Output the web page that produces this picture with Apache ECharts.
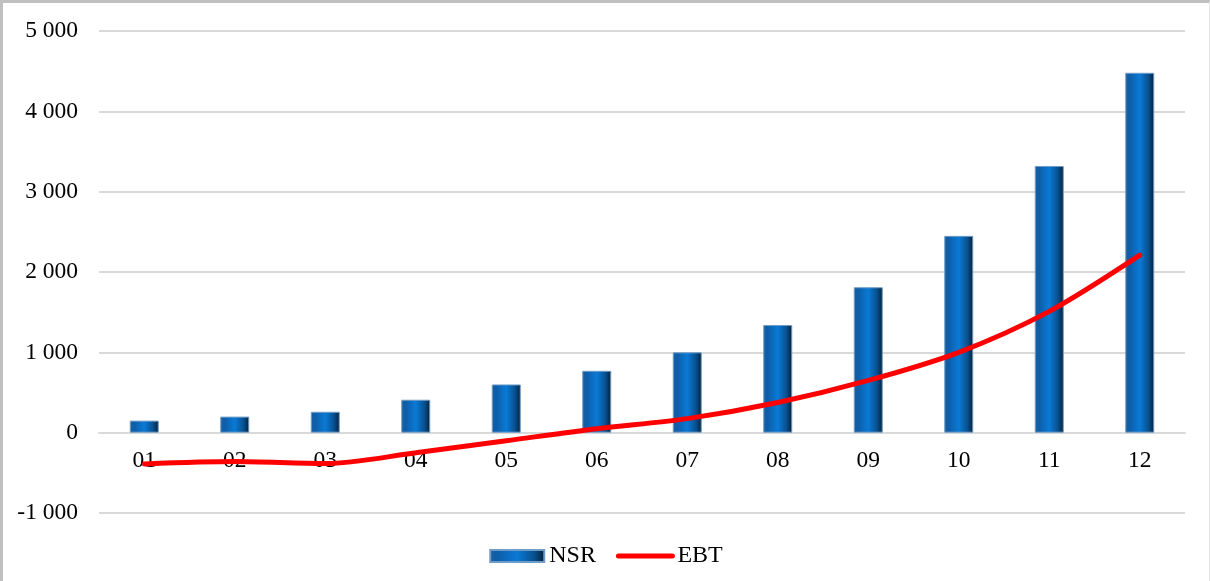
<!DOCTYPE html>
<html>
<head>
<meta charset="utf-8">
<script src="https://cdn.jsdelivr.net/npm/echarts@6/dist/echarts.min.js"></script>
<style>
  html, body { margin: 0; padding: 0; background: #fff; }
  #chart { width: 1210px; height: 581px; box-sizing: border-box;
           border-left: 3px solid #c0c0c0; border-top: 3px solid #c0c0c0; border-right: 1px solid #e4e4e4; }
</style>
</head>
<body>
<div id="chart"></div>
<script>
var categories = ['01', '02', '03', '04', '05', '06', '07', '08', '09', '10', '11', '12'];
var nsr = [150, 200, 260, 410, 600, 770, 1000, 1340, 1810, 2450, 3320, 4480];
var ebt = [-390, -360, -385, -250, -100, 50, 175, 375, 650, 1000, 1510, 2210];

var chart = echarts.init(document.getElementById('chart'));

var barColor = new echarts.graphic.LinearGradient(0, 0, 1, 0, [
  { offset: 0, color: '#1c5f9e' },
  { offset: 0.15, color: '#0d5da8' },
  { offset: 0.5, color: '#0a7ad6' },
  { offset: 0.8, color: '#08508f' },
  { offset: 1, color: '#061e33' }
]);

function fmt(v) {
  var s = Math.abs(v).toString().replace(/\B(?=(\d{3})+(?!\d))/g, ' ');
  return (v < 0 ? '-' : '') + s;
}

// grid: 578px canvas, top 28, bottom 68 -> 482px for 6 steps
var gridTop = 28, gridBottom = 68;
var step = (578 - gridTop - gridBottom) / 6;

chart.setOption({
  animation: false,
  textStyle: { fontFamily: 'Liberation Serif, Times New Roman, serif' },
  grid: { left: 96, right: 24, top: gridTop, bottom: gridBottom },
  legend: {
    bottom: 8,
    left: 'center',
    itemWidth: 54,
    itemHeight: 12,
    itemGap: 20,
    textStyle: { fontSize: 24, color: '#000', fontFamily: 'Liberation Serif' },
    data: [
      { name: 'NSR', icon: 'rect' },
      { name: 'EBT', itemStyle: { opacity: 0 }, lineStyle: { width: 5, color: '#ff0000', cap: 'round' } }
    ]
  },
  xAxis: {
    type: 'category',
    data: categories,
    offset: -step,
    axisLine: { onZero: false, lineStyle: { color: '#d9d9d9', width: 2 } },
    axisTick: { show: false },
    axisLabel: { fontSize: 23.5, color: '#000', margin: 16, fontFamily: 'Liberation Serif' }
  },
  yAxis: {
    type: 'value',
    min: -1000,
    max: 5000,
    interval: 1000,
    axisLine: { show: false },
    axisTick: { show: false },
    splitLine: { lineStyle: { color: '#d9d9d9', width: 2 } },
    axisLabel: { fontSize: 23.5, color: '#000', margin: 21, formatter: fmt, fontFamily: 'Liberation Serif' }
  },
  series: [
    {
      name: 'NSR',
      type: 'bar',
      data: nsr,
      barWidth: 29,
      itemStyle: { color: barColor, borderColor: '#6f9cc6', borderWidth: 1 },
      z: 2
    },
    {
      name: 'EBT',
      type: 'line',
      data: ebt,
      smooth: 0.3,
      symbol: 'none',
      lineStyle: { color: '#ff0000', width: 5, cap: 'round' },
      itemStyle: { color: '#ff0000' },
      z: 3
    }
  ]
});
</script>
</body>
</html>
